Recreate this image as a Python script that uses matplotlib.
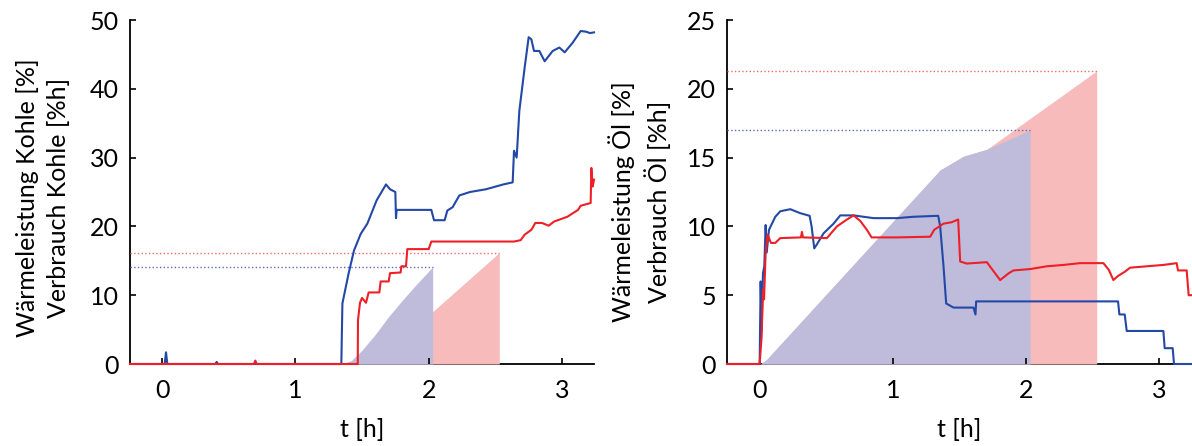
import matplotlib.pyplot as plt

plt.rcParams["font.family"] = ["Lato", "DejaVu Sans"]

# --- Kohle (left panel) ---
kohle_blue_t = [-0.24, 0.02, 0.03, 0.04, 0.40, 0.41, 0.42, 1.345, 1.353, 1.40, 1.44, 1.49,
                1.54, 1.61, 1.68, 1.71, 1.75, 1.755, 1.76, 2.02, 2.04, 2.12, 2.14, 2.18,
                2.23, 2.31, 2.43, 2.56, 2.63, 2.64, 2.66, 2.68, 2.72, 2.75, 2.77, 2.79,
                2.83, 2.87, 2.93, 2.98, 3.02, 3.08, 3.14, 3.18, 3.21, 3.24]
kohle_blue_y = [0, 0, 1.7, 0, 0, 0.3, 0, 0, 8.8, 13.2, 16.5, 18.9,
                20.4, 23.8, 26.1, 25.4, 25.0, 21.2, 22.4, 22.4, 20.9, 20.9, 22.3, 22.8,
                24.5, 25.0, 25.4, 26.1, 26.4, 31.0, 30.0, 36.8, 43.1, 47.5, 47.2, 45.5,
                45.5, 44.0, 45.5, 46.0, 45.3, 46.7, 48.4, 48.3, 48.1, 48.2]
kohle_red_t = [-0.24, 0.69, 0.70, 0.71, 1.468, 1.47, 1.485, 1.50, 1.53, 1.55, 1.63, 1.64,
               1.70, 1.71, 1.79, 1.795, 1.83, 1.84, 2.00, 2.02, 2.64, 2.69, 2.72, 2.77,
               2.80, 2.85, 2.90, 2.94, 3.04, 3.12, 3.14, 3.215, 3.22, 3.23, 3.24]
kohle_red_y = [0, 0, 0.5, 0, 0, 6.4, 8.9, 9.6, 8.9, 10.4, 10.4, 12.0,
               12.0, 13.2, 13.3, 14.2, 14.2, 16.7, 16.7, 17.8, 17.8, 18.0, 18.8, 19.5,
               20.5, 20.5, 20.1, 20.7, 21.4, 22.4, 23.0, 23.4, 28.5, 25.8, 26.8]
kohle_use_blue_t = [1.35, 1.42, 1.50, 1.60, 1.70, 1.80, 1.90, 2.03]
kohle_use_blue_y = [0, 0.5, 2.0, 4.3, 6.9, 9.2, 11.4, 14.1]
kohle_use_red_t = [1.47, 2.03, 2.53]
kohle_use_red_y = [0, 7.6, 16.2]

# --- Öl (right panel) ---
oel_blue_t = [-0.245, 0.0, 0.0075, 0.015, 0.025, 0.035, 0.045, 0.053, 0.07, 0.1175, 0.155,
              0.23, 0.305, 0.375, 0.39, 0.41, 0.43, 0.48, 0.555, 0.605, 0.705, 0.855,
              1.03, 1.155, 1.34, 1.355, 1.38, 1.40, 1.455, 1.605, 1.62, 1.625, 2.69,
              2.70, 2.74, 2.755, 3.03, 3.04, 3.10, 3.11, 3.245]
oel_blue_y = [0, 0, 6.0, 2.5, 6.6, 7.1, 10.1, 8.1, 9.75, 10.7, 11.1,
              11.25, 10.96, 10.77, 10.0, 8.4, 8.7, 9.5, 10.2, 10.8, 10.8, 10.6,
              10.6, 10.7, 10.77, 10.0, 7.1, 4.4, 4.1, 4.1, 3.6, 4.55, 4.55,
              3.6, 3.6, 2.4, 2.4, 1.15, 1.15, 0, 0]
oel_red_t = [-0.245, 0.0, 0.015, 0.025, 0.033, 0.045, 0.06, 0.085, 0.1175, 0.155, 0.31,
             0.3175, 0.325, 0.505, 0.58, 0.655, 0.705, 0.755, 0.805, 0.84, 1.03, 1.28,
             1.31, 1.38, 1.44, 1.49, 1.505, 1.555, 1.705, 1.805, 1.87, 1.905, 2.03,
             2.155, 2.28, 2.405, 2.58, 2.62, 2.655, 2.69, 2.74, 2.78, 2.905, 3.03,
             3.13, 3.14, 3.205, 3.22, 3.245]
oel_red_y = [0, 0, 2.0, 5.4, 4.7, 8.1, 9.4, 8.8, 8.8, 9.15, 9.2,
             9.6, 9.2, 9.15, 10.0, 10.5, 10.8, 10.4, 9.75, 9.2, 9.2, 9.25,
             9.75, 10.2, 10.3, 10.5, 7.45, 7.3, 7.4, 6.1, 6.6, 6.8, 6.9,
             7.1, 7.2, 7.33, 7.33, 6.85, 6.1, 6.4, 6.7, 7.0, 7.1, 7.2,
             7.33, 6.8, 6.8, 5.0, 5.0]
oel_use_blue_t = [0.005, 0.05, 1.355, 1.53, 1.705, 2.03]
oel_use_blue_y = [0, 0.3, 14.1, 15.1, 15.6, 17.0]
oel_use_red_t = [0.005, 0.05, 1.355, 1.53, 1.705, 2.53]
oel_use_red_y = [0, 0.3, 14.1, 15.1, 15.6, 21.3]

C_BLUE = "#2348a6"
C_RED = "#ee1f27"
F_BLUE = "#bebbdb"
F_RED = "#f7bbbb"

fig = plt.figure(figsize=(11.92, 4.46), dpi=100)
ax1 = fig.add_axes([130 / 1192, 82 / 446, 464 / 1192, 344 / 446])
ax2 = fig.add_axes([727 / 1192, 82 / 446, 465 / 1192, 344 / 446])


def draw(ax, bt, by, rt, ry, ubt, uby, urt, ury, xlim, ylim, yticks, ylabel, lab_y):
    ax.fill_between(urt, ury, 0, color=F_RED, lw=0, zorder=1)
    ax.fill_between(ubt, uby, 0, color=F_BLUE, lw=0, zorder=1.1)
    ax.plot([xlim[0], urt[-1]], [ury[-1]] * 2, ls=":", lw=1, color="#f06a6a", zorder=2)
    ax.plot([xlim[0], ubt[-1]], [uby[-1]] * 2, ls=":", lw=1, color="#5a6cb8", zorder=2)
    ax.plot(bt, by, color=C_BLUE, lw=1.5, zorder=3, clip_on=False)
    ax.plot(rt, ry, color=C_RED, lw=1.5, zorder=4, clip_on=False)
    ax.set_xlim(*xlim)
    ax.set_ylim(*ylim)
    ax.set_xticks([0, 1, 2, 3])
    ax.set_yticks(yticks)
    for s in ["top", "right"]:
        ax.spines[s].set_visible(False)
    for s in ["left", "bottom"]:
        ax.spines[s].set_zorder(0.5)
        ax.spines[s].set_linewidth(1.3)
    ax.tick_params(direction="in", length=4, width=1.2, labelsize=18)
    ax.tick_params(axis="x", pad=11)
    ax.tick_params(axis="y", pad=8)
    ax.set_ylabel(ylabel, fontsize=18, linespacing=1.4, va="center")
    ax.yaxis.set_label_coords(-0.187, lab_y)
    ax.set_xlabel("t [h]", fontsize=18, va="center")
    ax.xaxis.set_label_coords(0.5, -0.19)


draw(ax1, kohle_blue_t, kohle_blue_y, kohle_red_t, kohle_red_y,
     kohle_use_blue_t, kohle_use_blue_y, kohle_use_red_t, kohle_use_red_y,
     (-0.24, 3.24), (0, 50), [0, 10, 20, 30, 40, 50],
     "Wärmeleistung Kohle [%]\nVerbrauch Kohle [%h]", 0.483)
draw(ax2, oel_blue_t, oel_blue_y, oel_red_t, oel_red_y,
     oel_use_blue_t, oel_use_blue_y, oel_use_red_t, oel_use_red_y,
     (-0.245, 3.245), (0, 25), [0, 5, 10, 15, 20, 25],
     "Wärmeleistung Öl [%]\nVerbrauch Öl [%h]", 0.471)

fig.savefig("out.png", dpi=100)
